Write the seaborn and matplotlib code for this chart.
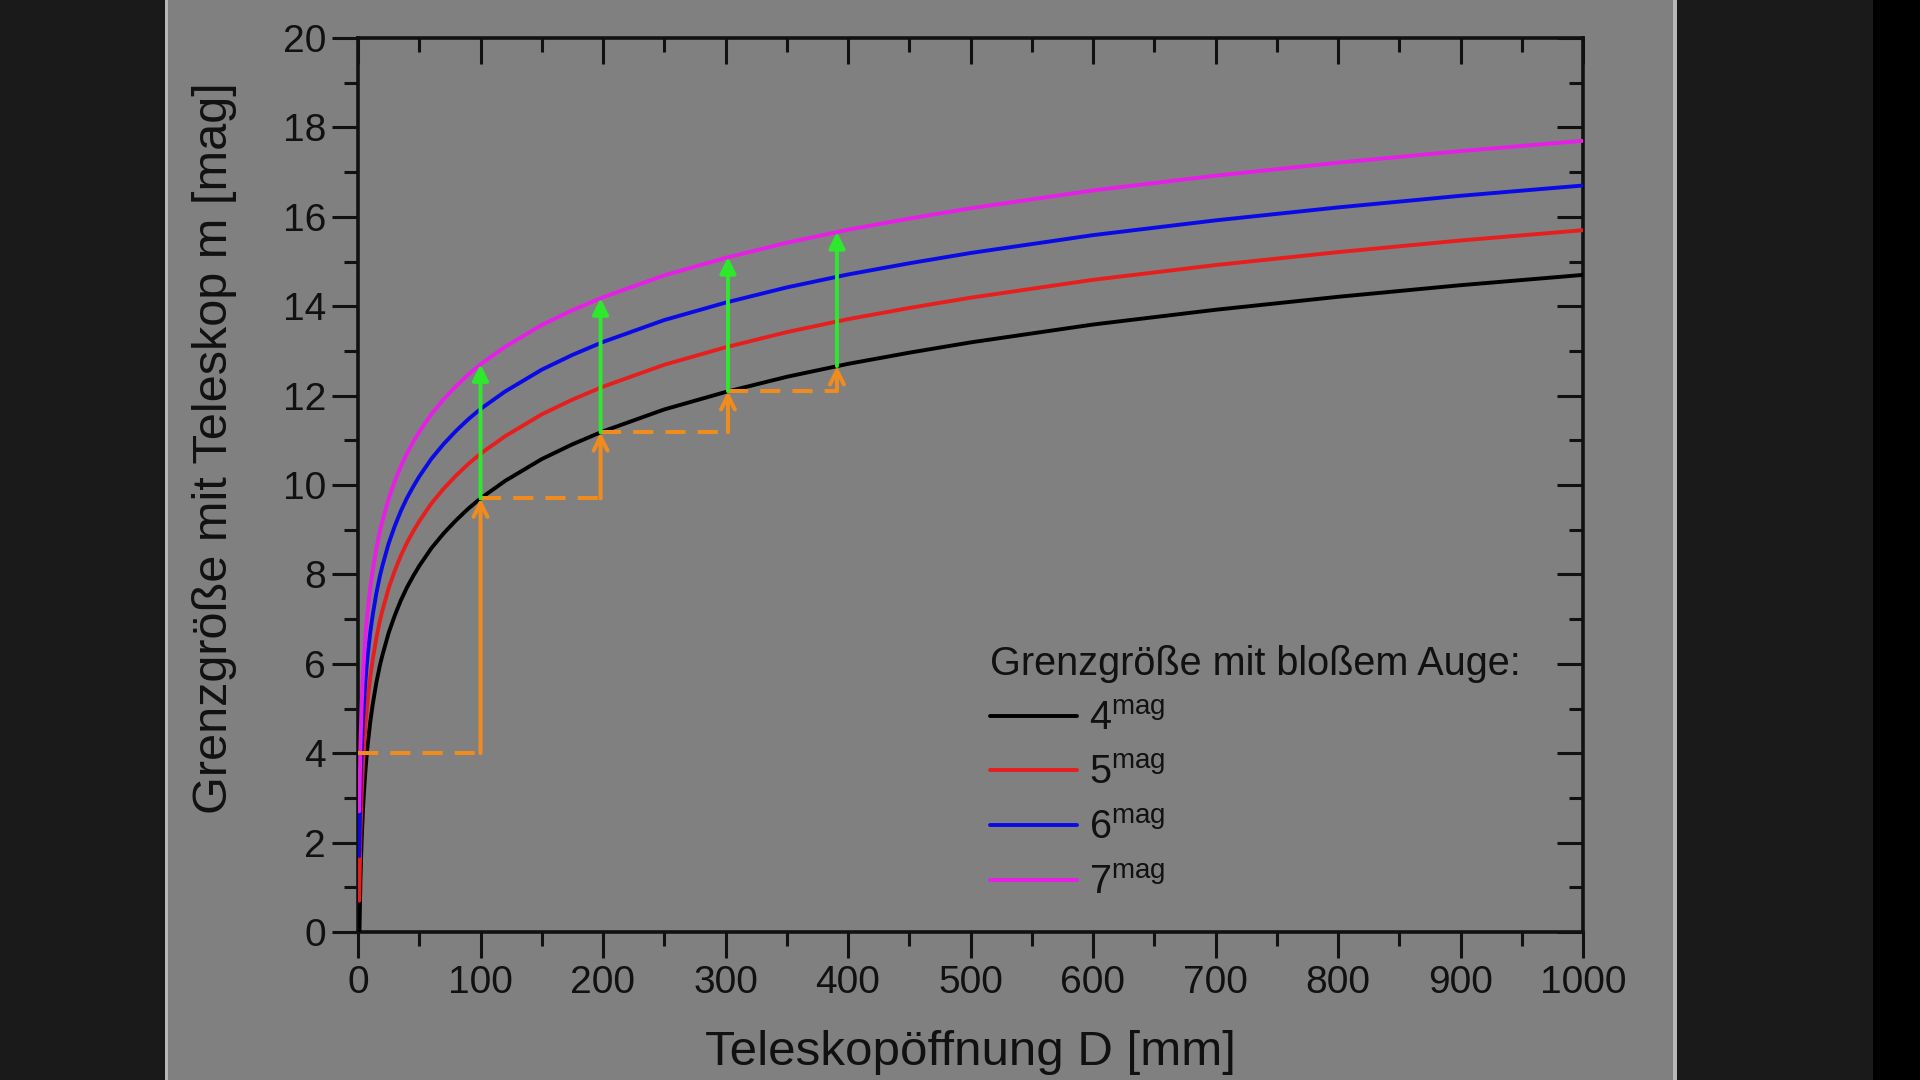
import matplotlib
matplotlib.use("Agg")
import matplotlib.pyplot as plt
from matplotlib.patches import Rectangle
from matplotlib.lines import Line2D
from matplotlib.ticker import MultipleLocator
import pandas as pd
import seaborn as sns

# values (aperture D in mm, limiting magnitude m)
aperture = [1, 2, 3, 4, 5, 6, 7, 8, 10, 12, 15, 18, 20, 25, 30, 35, 40, 45, 50, 60, 70, 80, 90,
            100, 120, 150, 175, 200, 250, 300, 350, 400, 450, 500, 600, 700, 800, 900, 1000]
m_eye4 = [-0.30, 1.20, 2.08, 2.71, 3.19, 3.59, 3.92, 4.21, 4.70, 5.09, 5.58, 5.98, 6.20, 6.69, 7.08,
          7.42, 7.71, 7.96, 8.19, 8.59, 8.92, 9.21, 9.47, 9.70, 10.09, 10.58, 10.91, 11.20, 11.69,
          12.08, 12.42, 12.71, 12.96, 13.19, 13.59, 13.92, 14.21, 14.47, 14.70]
m_eye5 = [0.70, 2.20, 3.08, 3.71, 4.19, 4.59, 4.92, 5.21, 5.70, 6.09, 6.58, 6.98, 7.20, 7.69, 8.08,
          8.42, 8.71, 8.96, 9.19, 9.59, 9.92, 10.21, 10.47, 10.70, 11.09, 11.58, 11.91, 12.20, 12.69,
          13.08, 13.42, 13.71, 13.96, 14.19, 14.59, 14.92, 15.21, 15.47, 15.70]
m_eye6 = [1.70, 3.20, 4.08, 4.71, 5.19, 5.59, 5.92, 6.21, 6.70, 7.09, 7.58, 7.98, 8.20, 8.69, 9.08,
          9.42, 9.71, 9.96, 10.19, 10.59, 10.92, 11.21, 11.47, 11.70, 12.09, 12.58, 12.91, 13.20, 13.69,
          14.08, 14.42, 14.71, 14.96, 15.19, 15.59, 15.92, 16.21, 16.47, 16.70]
m_eye7 = [2.70, 4.20, 5.08, 5.71, 6.19, 6.59, 6.92, 7.21, 7.70, 8.09, 8.58, 8.98, 9.20, 9.69, 10.08,
          10.42, 10.71, 10.96, 11.19, 11.59, 11.92, 12.21, 12.47, 12.70, 13.09, 13.58, 13.91, 14.20, 14.69,
          15.08, 15.42, 15.71, 15.96, 16.19, 16.59, 16.92, 17.21, 17.47, 17.70]
series_labels = [r"$\mathregular{4^{mag}}$", r"$\mathregular{5^{mag}}$",
                 r"$\mathregular{6^{mag}}$", r"$\mathregular{7^{mag}}$"]
series_colors = ["#000000", "#e61e1e", "#0a0ae6", "#e61ee6"]

# step construction (orange) and gain arrows (green)
step_x = [100, 198, 302, 391]
step_low = [4.0, 9.70, 11.18, 12.10]     # start of each orange step
step_black = [9.70, 11.18, 12.10, 12.66]  # 4 mag curve at step_x
step_top = [12.70, 14.18, 15.10, 15.66]   # 7 mag curve at step_x
step_from = [0, 100, 198, 302]            # start of dashed leader

xticks = list(range(0, 1001, 100))
yticks = list(range(0, 21, 2))

df = pd.DataFrame({
    "D": aperture * 4,
    "m": m_eye4 + m_eye5 + m_eye6 + m_eye7,
    "Auge": sum([[lab] * len(aperture) for lab in series_labels], []),
})

sns.set_theme(style="ticks")
plt.rcParams["font.family"] = ["Liberation Sans", "DejaVu Sans"]
plt.rcParams["mathtext.fontset"] = "custom"
plt.rcParams["mathtext.rm"] = "Liberation Sans"

fig = plt.figure(figsize=(19.2, 10.8), dpi=100)
fig.patch.set_facecolor("#1a1a1a")
# grey slide panel behind the chart
fig.patches.append(Rectangle((165 / 1920, 0), (1677 - 165) / 1920, 1, transform=fig.transFigure,
                             facecolor="#b8b8b8", edgecolor="none", zorder=-3))
fig.patches.append(Rectangle((168 / 1920, 0), (1673 - 168) / 1920, 1, transform=fig.transFigure,
                             facecolor="#808080", edgecolor="none", zorder=-2))
fig.patches.append(Rectangle((1873 / 1920, 0), 47 / 1920, 1, transform=fig.transFigure,
                             facecolor="#000000", edgecolor="none", zorder=-2))

ax = fig.add_axes([358 / 1920, 1 - 932 / 1080, (1583 - 358) / 1920, (932 - 38) / 1080])
ax.set_facecolor("#808080")

sns.lineplot(data=df, x="D", y="m", hue="Auge", palette=series_colors, estimator=None,
             linewidth=2.8, legend=False, ax=ax, zorder=3)
for ln in ax.lines:
    ln.set_solid_joinstyle("round")

orange = "#f08c1e"
green = "#2ee82e"
for x0, x, lo, blk, top in zip(step_from, step_x, step_low, step_black, step_top):
    ax.plot([x0, x], [lo, lo], color=orange, lw=2.9, ls=(0, (5, 3)), zorder=4)
    ax.annotate("", xy=(x, blk), xytext=(x, lo),
                arrowprops=dict(arrowstyle="->", color=orange, lw=2.9, mutation_scale=25,
                                shrinkA=0, shrinkB=0), zorder=5)
    ax.annotate("", xy=(x, top), xytext=(x, blk),
                arrowprops=dict(arrowstyle="-|>", color=green, lw=2.8, mutation_scale=24,
                                shrinkA=0, shrinkB=0), zorder=5)

ax.set_xlim(0, 1000)
ax.set_ylim(0, 20)
ax.set_xticks(xticks)
ax.set_yticks(yticks)
ax.xaxis.set_minor_locator(MultipleLocator(50))
ax.yaxis.set_minor_locator(MultipleLocator(1))
ax.tick_params(which="both", direction="out", colors="#111111", labelsize=28, width=2.2)
ax.tick_params(which="major", length=19)
ax.tick_params(which="minor", length=10)
ax.tick_params(axis="x", pad=5)
ax.tick_params(axis="y", pad=4)
for sp in ax.spines.values():
    sp.set_linewidth(2.6)
    sp.set_color("#111111")
    sp.set_visible(True)

secx = ax.secondary_xaxis("top")
secx.set_xticks(xticks)
secx.xaxis.set_minor_locator(MultipleLocator(50))
secx.tick_params(which="both", direction="in", labeltop=False, width=2.2, colors="#111111")
secx.tick_params(which="major", length=19)
secx.tick_params(which="minor", length=10)
secy = ax.secondary_yaxis("right")
secy.set_yticks(yticks)
secy.yaxis.set_minor_locator(MultipleLocator(1))
secy.tick_params(which="both", direction="in", labelright=False, width=2.2, colors="#111111")
secy.tick_params(which="major", length=19)
secy.tick_params(which="minor", length=10)

ax.set_xlabel("Teleskopöffnung D [mm]", fontsize=35.5, color="#111111")
ax.set_ylabel("Grenzgröße mit Teleskop m [mag]", fontsize=35, color="#111111")
ax.xaxis.set_label_coords(0.5, -0.110)
ax.yaxis.set_label_coords(-0.099, 0.541)

handles = [Line2D([], [], color=c, lw=2.8) for c in series_colors]
leg = ax.legend(handles, series_labels, title="Grenzgröße mit bloßem Auge:",
                loc="upper left", bbox_to_anchor=(0.516, 0.321), frameon=False,
                fontsize=28.5, title_fontsize=28.5, alignment="left",
                handlelength=2.2, handletextpad=0.3, labelspacing=0.42,
                borderpad=0, borderaxespad=0)
for t in leg.get_texts():
    t.set_color("#111111")
leg.get_title().set_color("#111111")

fig.savefig("out.png", dpi=100, facecolor=fig.get_facecolor())
